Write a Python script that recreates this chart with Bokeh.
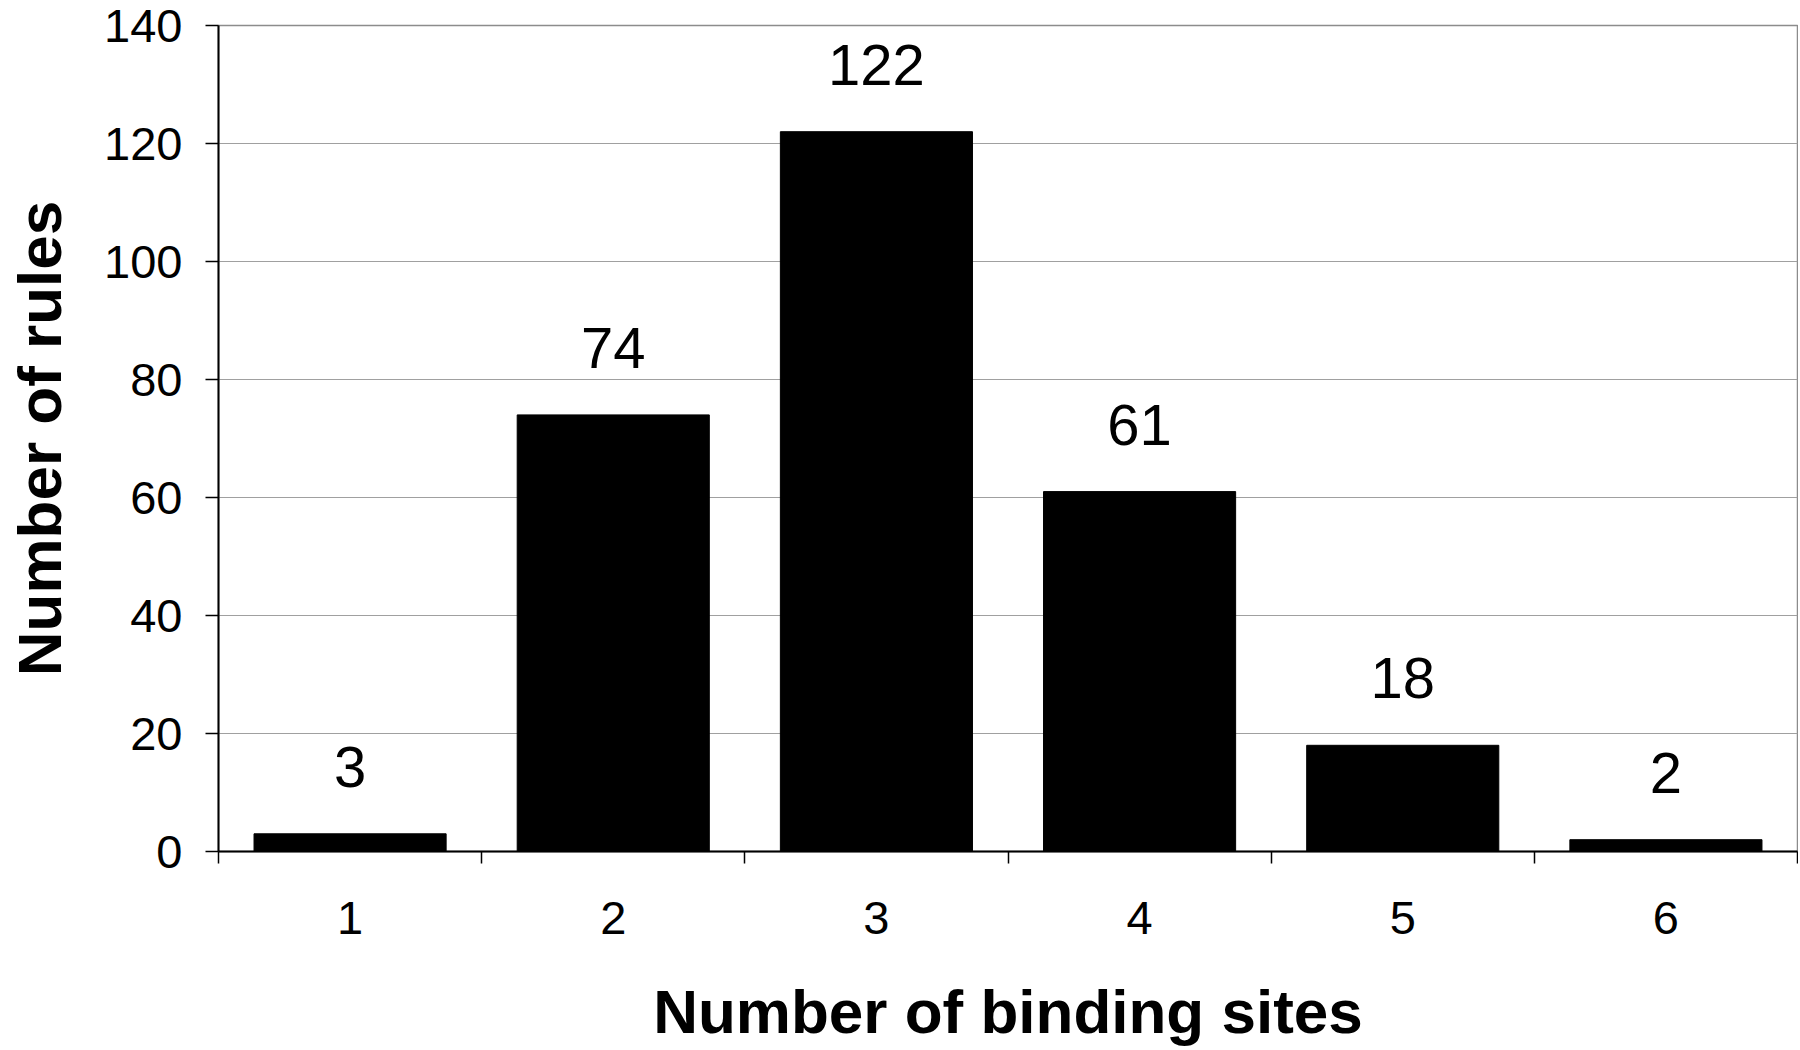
from bokeh.plotting import figure
from bokeh.models import Range1d, FixedTicker, ColumnDataSource
from bokeh.core.properties import value
from bokeh.embed import file_html
from bokeh.resources import INLINE

# ---- data ----
categories = ["1", "2", "3", "4", "5", "6"]
counts = [3, 74, 122, 61, 18, 2]
y_ticks = [0, 20, 40, 60, 80, 100, 120, 140]
x_title = "Number of binding sites"
y_title = "Number of rules"

positions = list(range(1, len(categories) + 1))
boundaries = [p - 0.5 for p in positions] + [positions[-1] + 0.5]

FONT = "Liberation Sans"

p = figure(
    width=1798, height=1048,
    x_range=Range1d(boundaries[0], boundaries[-1]),
    y_range=Range1d(y_ticks[0], y_ticks[-1]),
    output_backend="svg", toolbar_location=None,
    min_border_left=218, min_border_top=25, min_border_right=1, min_border_bottom=0,
)
p.background_fill_color = "white"
p.border_fill_color = "white"
p.outline_line_color = "#8c8c8c"
p.outline_line_width = 1.5

src = ColumnDataSource(dict(x=positions, top=counts, label=[str(c) for c in counts]))

p.vbar(x="x", top="top", bottom=0, width=0.73, source=src,
       fill_color="black", line_color="black")

p.text(x="x", y="top", text="label", source=src,
       text_align="center", text_baseline="alphabetic", y_offset=-67,
       text_font=value(FONT), text_font_size="58px", text_color="black")

# grid
p.xgrid.visible = False
p.ygrid.ticker = FixedTicker(ticks=y_ticks)
p.ygrid.grid_line_color = "#a0a0a0"
p.ygrid.grid_line_width = 1.2

# x axis
xa = p.xaxis[0]
xa.ticker = FixedTicker(ticks=positions, minor_ticks=boundaries)
xa.major_label_overrides = {pos: c for pos, c in zip(positions, categories)}
xa.major_tick_out = 0
xa.major_tick_in = 0
xa.minor_tick_out = 12
xa.minor_tick_in = 0
xa.minor_tick_line_color = "black"
xa.minor_tick_line_width = 1.5
xa.axis_line_color = "black"
xa.axis_line_width = 2
xa.major_label_text_font = FONT
xa.major_label_text_font_size = "47px"
xa.major_label_text_color = "black"
xa.major_label_standoff = 38
xa.axis_label = x_title
xa.axis_label_text_font = FONT
xa.axis_label_text_font_style = "bold"
xa.axis_label_text_font_size = "62px"
xa.axis_label_text_color = "black"
xa.axis_label_standoff = 40

# y axis
ya = p.yaxis[0]
ya.ticker = FixedTicker(ticks=y_ticks, minor_ticks=[])
ya.major_tick_out = 13
ya.major_tick_in = 0
ya.major_tick_line_color = "black"
ya.major_tick_line_width = 1.5
ya.minor_tick_line_color = None
ya.axis_line_color = "black"
ya.axis_line_width = 2
ya.major_label_text_font = FONT
ya.major_label_text_font_size = "47px"
ya.major_label_text_color = "black"
ya.major_label_standoff = 23
ya.axis_label = y_title
ya.axis_label_text_font = FONT
ya.axis_label_text_font_style = "bold"
ya.axis_label_text_font_size = "62px"
ya.axis_label_text_color = "black"
ya.axis_label_standoff = 27

open("out.html", "w").write(file_html(p, INLINE))
